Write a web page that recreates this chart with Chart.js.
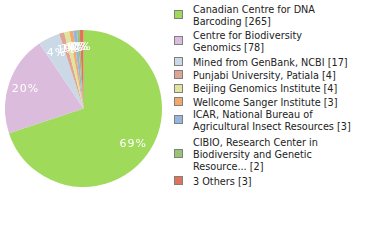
<!DOCTYPE html>
<html><head><meta charset="utf-8">
<script src="https://cdn.jsdelivr.net/npm/chart.js@4/dist/chart.umd.min.js"></script>
<style>
html,body{margin:0;padding:0;background:#fff;width:380px;height:240px;overflow:hidden;}
#pie{position:absolute;left:5px;top:30px;width:157px;height:157px;}
.item{position:absolute;left:174px;display:flex;align-items:center;font-family:"DejaVu Sans",sans-serif;font-size:9.7px;line-height:11.7px;color:#222;white-space:pre-line;}
.box{width:7px;height:7px;border:1px solid #808080;margin-right:10px;flex:none;position:relative;top:-1px;}
</style></head>
<body>
<div id="pie"><canvas id="c" width="157" height="157"></canvas></div>
<div id="legend"></div>
<script>
const labels = [
  "Canadian Centre for DNA\nBarcoding",
  "Centre for Biodiversity\nGenomics",
  "Mined from GenBank, NCBI",
  "Punjabi University, Patiala",
  "Beijing Genomics Institute",
  "Wellcome Sanger Institute",
  "ICAR, National Bureau of\nAgricultural Insect Resources",
  "CIBIO, Research Center in\nBiodiversity and Genetic\nResource...",
  "3 Others"
];
const counts = [265, 78, 17, 4, 4, 3, 3, 2, 3];
const colors = ["#a0da5b","#dcbcdc","#cbd9e6","#e0a496","#e0e49c","#f2aa6c","#96b6e0","#98c473","#e0735a"];
const legendTops = [10, 36, 62.7, 76, 89.3, 102.7, 115, 143.3, 181.7];

const total = counts.reduce((a,b)=>a+b,0);

const legend = document.getElementById('legend');
labels.forEach((l,i)=>{
  const d = document.createElement('div');
  d.className='item';
  d.style.top = (legendTops[i] - 5.85) + 'px';
  const b = document.createElement('span'); b.className='box'; b.style.background=colors[i];
  const t = document.createElement('span'); t.textContent = l + ' [' + counts[i] + ']';
  d.appendChild(b); d.appendChild(t);
  legend.appendChild(d);
});

const pctLabels = {
  id:'pctLabels',
  afterDatasetsDraw(chart){
    const ctx = chart.ctx;
    const meta = chart.getDatasetMeta(0);
    ctx.save();
    ctx.fillStyle='#fff';
    ctx.font='11px "DejaVu Sans", sans-serif';
    ctx.textAlign='center';ctx.textBaseline='middle';
    meta.data.forEach((arc,i)=>{
      const mid=(arc.startAngle+arc.endAngle)/2;
      const r=arc.outerRadius*0.78;
      const x=arc.x+Math.cos(mid)*r, y=arc.y+Math.sin(mid)*r;
      const p=Math.floor(counts[i]/total*100)+'%';
      if(ctx.letterSpacing!==undefined) ctx.letterSpacing='1px';
      ctx.fillText(p,x,y);
    });
    ctx.restore();
  }
};

new Chart(document.getElementById('c'),{
  type:'pie',
  data:{labels:labels,datasets:[{data:counts,backgroundColor:colors,borderWidth:0}]},
  options:{responsive:false,animation:false,layout:{padding:0},
    plugins:{legend:{display:false},tooltip:{enabled:false}}},
  plugins:[pctLabels]
});
</script>
</body></html>
